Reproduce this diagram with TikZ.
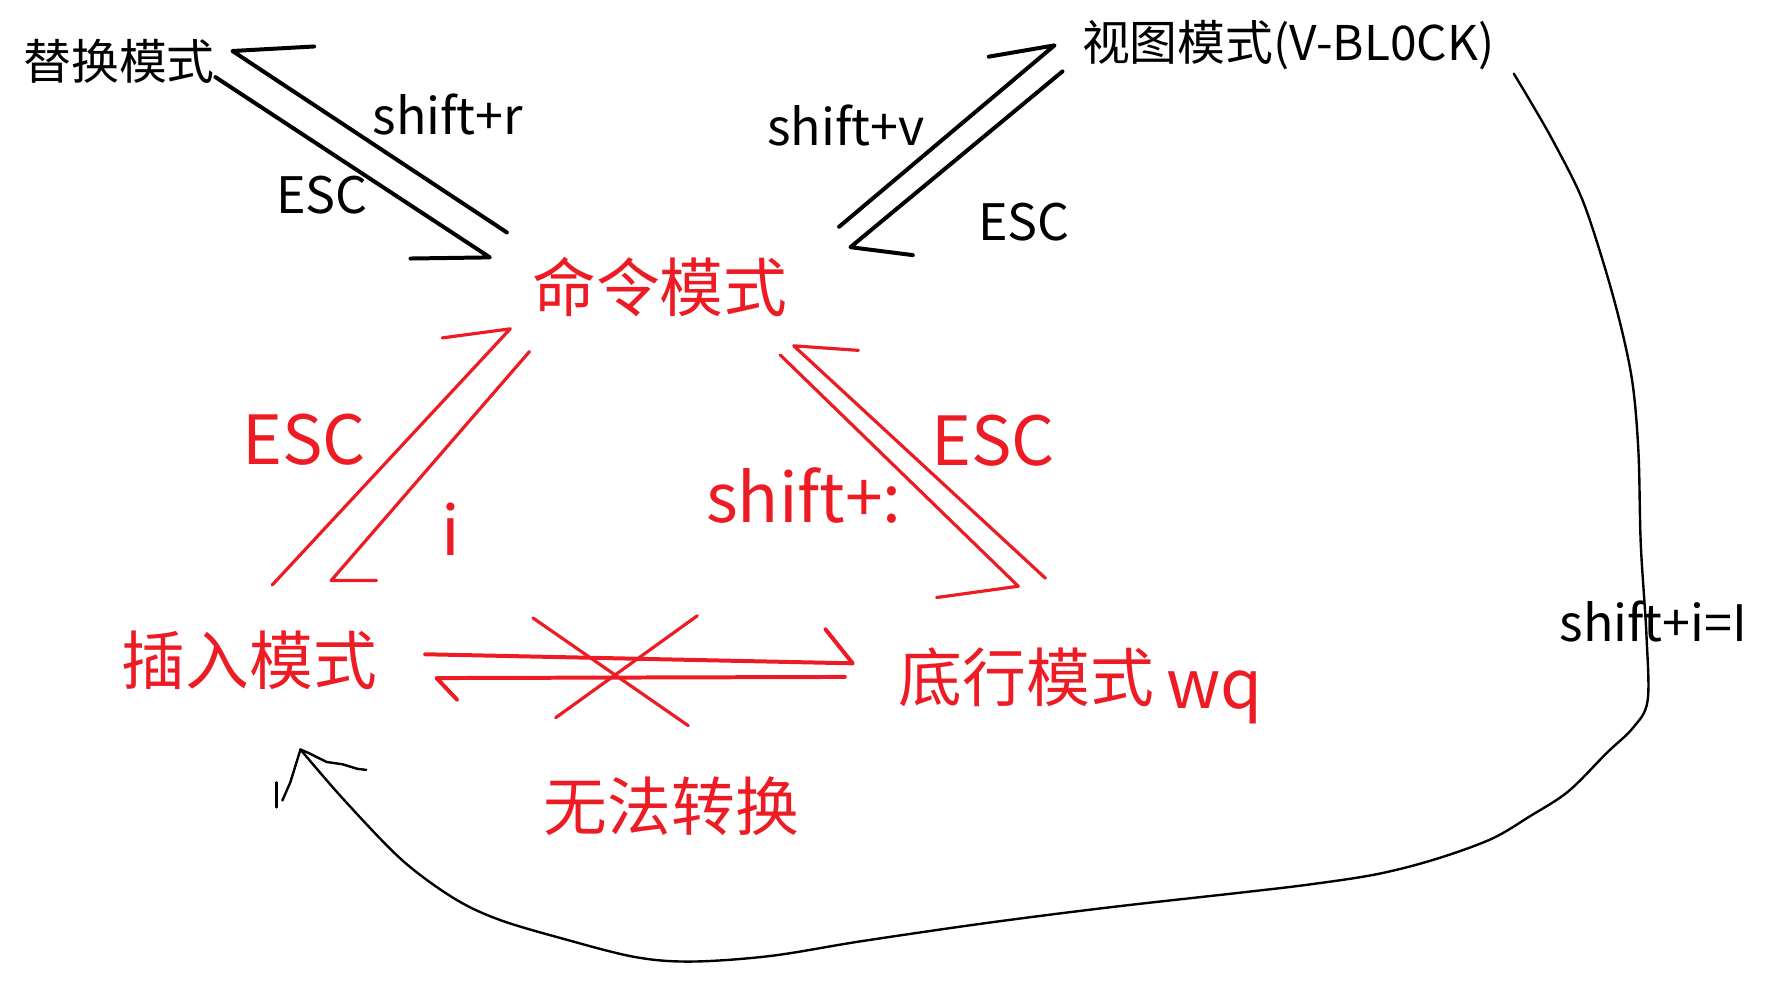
\documentclass[tikz,border=0pt]{standalone}
\usepackage{fontspec}
\setmainfont{Noto Sans CJK SC}
\definecolor{paintred}{RGB}{237,28,36}
\tikzset{
  mode/.style={inner sep=0pt,font=\fontsize{12}{14}\selectfont},
  keylab/.style={inner sep=0pt,font=\fontsize{12.6}{15}\selectfont},
  redmode/.style={inner sep=0pt,text=paintred,font=\fontsize{16}{19}\selectfont},
  redkey/.style={inner sep=0pt,text=paintred,font=\fontsize{17}{20}\selectfont},
  pen/.style={line width=1pt,line cap=round,line join=round},
  redpen/.style={line width=0.8pt,line cap=round,line join=round,draw=paintred},
  thinpen/.style={line width=0.6pt,line cap=round,line join=round}
}
\begin{document}
\begin{tikzpicture}[x=0.01cm,y=-0.01cm]
\useasboundingbox (0,0) rectangle (1568,877);
% modes
\node[mode] (replace) at (105,54) {替换模式};
\node[mode] (visual) at (1136,40) {视图模式(V-BL0CK)};
\node[redmode] (cmd) at (582,253) {命令模式};
\node[redmode] (insert) at (220,582) {插入模式};
\node[redmode] (lastline) at (905,597) {底行模式};
\node[redkey] (wq) at (1071,615) {wq};
\node[redmode] (nope) at (592,711) {无法转换};
% key labels
\node[keylab] (kr) at (395,101) {shift+r};
\node[keylab] (escr) at (284,172) {ESC};
\node[keylab] (kv) at (746,111) {shift+v};
\node[keylab] (escv) at (903,196) {ESC};
\node[redkey] (esci) at (268,388) {ESC};
\node[redkey] (ki) at (398,467) {i};
\node[redkey] (kcolon) at (709,437) {shift+:};
\node[redkey] (escl) at (876,389) {ESC};
\node[keylab] (kI) at (1458,548) {shift+i=I};
% arrow ends
\coordinate (r1tip) at (205,45);
\coordinate (r1barb) at (277,41);
\coordinate (r1end) at (447,205);
\coordinate (r2start) at (190,68);
\coordinate (r2tip) at (432,227);
\coordinate (r2barb) at (362,228);
\coordinate (v1start) at (740,200);
\coordinate (v1tip) at (930,40);
\coordinate (v1barb) at (872,50);
\coordinate (v2start) at (937,63);
\coordinate (v2tip) at (750,218);
\coordinate (v2barb) at (805,225);
\coordinate (i1start) at (240,516);
\coordinate (i1tip) at (450,290);
\coordinate (i1barb) at (390,298);
\coordinate (i2start) at (467,310);
\coordinate (i2tip) at (292,512);
\coordinate (i2barb) at (332,512);
\coordinate (l1start) at (922,510);
\coordinate (l1tip) at (700,305);
\coordinate (l1barb) at (757,309);
\coordinate (l2start) at (688,313);
\coordinate (l2tip) at (898,517);
\coordinate (l2barb) at (826,527);
\coordinate (h1start) at (375,577);
\coordinate (h1tip) at (752,585);
\coordinate (h1barb) at (728,555);
\coordinate (h2start) at (745,597);
\coordinate (h2tip) at (385,598);
\coordinate (h2barb) at (403,617);
\coordinate (x1a) at (470,545);
\coordinate (x1b) at (607,640);
\coordinate (x2a) at (615,543);
\coordinate (x2b) at (490,633);
\coordinate (bigstart) at (1335,65);
\coordinate (bigtip) at (265,661);
% black arrows
\draw[pen] (r1barb) -- (r1tip) -- (r1end);
\draw[pen] (r2start) -- (r2tip) -- (r2barb);
\draw[pen] (v1start) -- (v1tip) -- (v1barb);
\draw[pen] (v2start) -- (v2tip) -- (v2barb);
% red arrows
\draw[redpen] (i1start) -- (i1tip) -- (i1barb);
\draw[redpen] (i2start) -- (i2tip) -- (i2barb);
\draw[redpen] (l1start) -- (l1tip) -- (l1barb);
\draw[redpen] (l2start) -- (l2tip) -- (l2barb);
\draw[redpen,line width=1pt] (h1start) -- (h1tip) -- (h1barb);
\draw[redpen,line width=1pt] (h2start) -- (h2tip) -- (h2barb);
\draw[redpen] (x1a) -- (x1b);
\draw[redpen] (x2a) -- (x2b);
% long way back
\draw[thinpen] plot[smooth,tension=0.55] coordinates {(bigstart) (1350,90) (1370,125) (1395,175)
  (1415,235) (1430,290) (1440,340) (1445,400) (1447,480) (1452,560) (1453,618) (1440,642)
  (1417,664) (1383,698) (1349,720) (1315,740) (1265,758) (1214,771) (1155,780) (1096,787)
  (980,800) (870,814) (760,830) (680,843) (610,848) (560,844) (497,828) (440,811) (400,792)
  (354,758) (303,705) (bigtip)};
\draw[thinpen] (bigtip) -- (272,664) -- (288,672) -- (302,674) -- (315,678) -- (323,679);
\draw[thinpen] (bigtip) -- (256,690) -- (249,706);
\draw[thinpen] (244,690) -- (244,712);
\end{tikzpicture}
\end{document}
